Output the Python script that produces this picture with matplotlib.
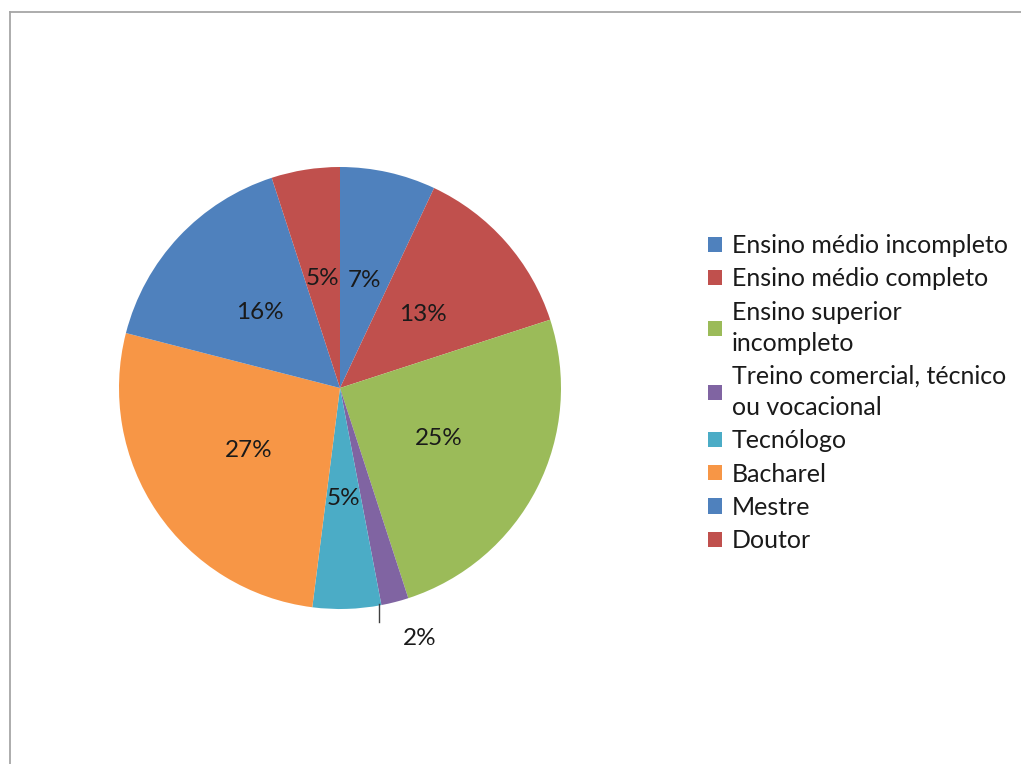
import matplotlib
matplotlib.use("Agg")
import matplotlib.pyplot as plt
from matplotlib.lines import Line2D
from matplotlib.patches import Patch
import numpy as np

categories = [
    "Ensino médio incompleto",
    "Ensino médio completo",
    "Ensino superior\nincompleto",
    "Treino comercial, técnico\nou vocacional",
    "Tecnólogo",
    "Bacharel",
    "Mestre",
    "Doutor",
]
values = [7, 13, 25, 2, 5, 27, 16, 5]
colors = ["#4F81BD", "#C0504D", "#9BBB59", "#8064A2",
          "#4BACC6", "#F79646", "#4F81BD", "#C0504D"]

plt.rcParams["font.family"] = ["Lato", "DejaVu Sans"]

W, H = 1021, 764
fig = plt.figure(figsize=(W / 100, H / 100), dpi=100)
fig.patch.set_facecolor("white")

# outer frame (top and left edges visible)
frame_kw = dict(color="#a6a6a6", lw=1.3, transform=fig.transFigure)
fig.add_artist(Line2D([10 / W, 1.0], [1 - 12 / H, 1 - 12 / H], **frame_kw))
fig.add_artist(Line2D([10 / W, 10 / W], [0, 1 - 12 / H], **frame_kw))

cx, cy, r = 340, 388, 221
ax = fig.add_axes([(cx - r) / W, (H - cy - r) / H, 2 * r / W, 2 * r / H])

wedges, _ = ax.pie(values, colors=colors, startangle=90, counterclock=False,
                   radius=1.0, wedgeprops=dict(linewidth=0))
ax.set_xlim(-1, 1)
ax.set_ylim(-1, 1)
ax.set_aspect("equal")
ax.axis("off")

total = sum(values)
for w, v in zip(wedges, values):
    ang = np.deg2rad((w.theta1 + w.theta2) / 2)
    label = f"{v / total * 100:.0f}%"
    if v / total < 0.03:
        # small slice: label outside with a short leader line
        ex, ey = np.cos(ang) * 1.0, np.sin(ang) * 1.0
        ax.plot([ex - 0.07, ex - 0.07], [ey - 0.01, ey - 0.09], color="#404040",
                lw=1.0, clip_on=False)
        ax.text(ex + 0.11, ey - 0.165, label, ha="center", va="center",
                fontsize=17.5, color="#1a1a1a", clip_on=False)
    else:
        ax.text(0.5 * np.cos(ang), 0.5 * np.sin(ang), label, ha="center",
                va="center", fontsize=17.5, color="#1a1a1a")

handles = [Patch(facecolor=c, edgecolor="none") for c in colors]
leg = fig.legend(handles, categories, loc="upper left",
                 bbox_to_anchor=(708 / W, 1 - 234 / H), frameon=False,
                 fontsize=18, handlelength=0.55, handleheight=0.55,
                 handletextpad=0.4, labelspacing=0.41, borderpad=0,
                 borderaxespad=0)
for t in leg.get_texts():
    t.set_color("#1a1a1a")
    t.set_linespacing(1.43)

fig.savefig("out.png", dpi=100, facecolor="white")
